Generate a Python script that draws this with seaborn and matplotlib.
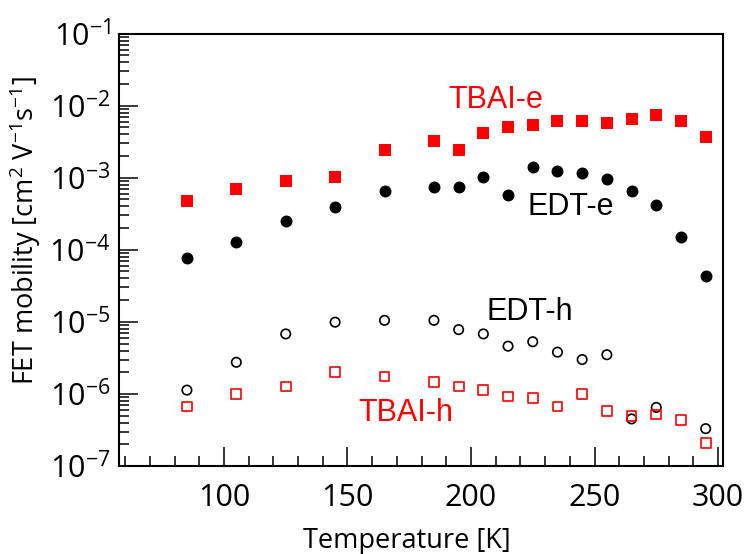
import numpy as np
import pandas as pd
import matplotlib
matplotlib.use("Agg")
import matplotlib.pyplot as plt
from matplotlib.ticker import MultipleLocator, LogLocator, NullFormatter
import seaborn as sns

# ---- data ----
temperature = [85, 105, 125, 145, 165, 185, 195, 205, 215, 225, 235, 245, 255, 265, 275, 285, 295]
tbai_e = [4.7e-4, 6.9e-4, 9.1e-4, 1.02e-3, 2.4e-3, 3.2e-3, 2.4e-3, 4.2e-3, 5.0e-3, 5.4e-3,
          6.2e-3, 6.2e-3, 5.8e-3, 6.6e-3, 7.5e-3, 6.2e-3, 3.7e-3]
edt_e = [7.8e-5, 1.29e-4, 2.5e-4, 3.9e-4, 6.5e-4, 7.4e-4, 7.4e-4, 1.02e-3, 5.7e-4, 1.41e-3,
         1.24e-3, 1.16e-3, 9.7e-4, 6.5e-4, 4.2e-4, 1.49e-4, 4.3e-5]
edt_h = [1.13e-6, 2.75e-6, 6.8e-6, 9.9e-6, 1.05e-5, 1.05e-5, 7.8e-6, 6.8e-6, 4.6e-6, 5.3e-6,
         3.8e-6, 3.0e-6, 3.5e-6, 4.5e-7, 6.5e-7, np.nan, 3.3e-7]
tbai_h = [6.7e-7, 1.0e-6, 1.27e-6, 2.0e-6, 1.75e-6, 1.45e-6, 1.27e-6, 1.13e-6, 9.2e-7, 8.8e-7,
          6.7e-7, 1.0e-6, 5.8e-7, 4.9e-7, 5.2e-7, 4.3e-7, 2.1e-7]
series_labels = ["TBAI-e", "EDT-e", "EDT-h", "TBAI-h"]

df = pd.DataFrame({"T": temperature, "TBAI-e": tbai_e, "EDT-e": edt_e,
                   "EDT-h": edt_h, "TBAI-h": tbai_h})

# ---- style ----
sns.set_style("white")
plt.rcParams["font.family"] = ["Open Sans", "DejaVu Sans"]
plt.rcParams["mathtext.fontset"] = "custom"
plt.rcParams["mathtext.rm"] = "Open Sans"
plt.rcParams["mathtext.it"] = "Open Sans:italic"
plt.rcParams["mathtext.bf"] = "Open Sans:bold"
for key in ["text.color", "axes.labelcolor", "xtick.color", "ytick.color",
            "xtick.labelcolor", "ytick.labelcolor", "axes.edgecolor"]:
    plt.rcParams[key] = "black"

fig = plt.figure(figsize=(7.52, 5.54), dpi=100)
ax = fig.add_axes([0.1582, 0.1588, 0.8032, 0.7807])

red = "#ff0000"
sns.scatterplot(data=df, x="T", y="TBAI-e", ax=ax, marker="s", s=74,
                color=red, linewidth=0)
sns.scatterplot(data=df, x="T", y="EDT-e", ax=ax, marker="o", s=74,
                color="black", linewidth=0)
sns.scatterplot(data=df, x="T", y="EDT-h", ax=ax, marker="o", s=46,
                color="black", facecolor="none", edgecolor="black", linewidth=1.2)
sns.scatterplot(data=df, x="T", y="TBAI-h", ax=ax, marker="s", s=50,
                color=red, facecolor="none", edgecolor=red, linewidth=1.2)

ax.set_yscale("log")
ax.set_ylim(1e-7, 1e-1)
ax.set_xlim(57.5, 302)

ax.xaxis.set_major_locator(MultipleLocator(50))
ax.xaxis.set_minor_locator(MultipleLocator(10))
ax.yaxis.set_major_locator(LogLocator(base=10, numticks=20))
ax.yaxis.set_minor_locator(LogLocator(base=10, subs=np.arange(2, 10), numticks=100))
ax.yaxis.set_minor_formatter(NullFormatter())

ax.tick_params(which="both", direction="in", top=False, right=False,
               left=True, bottom=True, width=1.1, color="black", labelcolor="black")
ax.tick_params(which="major", length=13.5, labelsize=22)
ax.tick_params(which="minor", length=7.2)
ax.tick_params(axis="x", which="major", pad=12)
ax.tick_params(axis="y", which="major", pad=6)

for sp in ax.spines.values():
    sp.set_linewidth(1.5)
    sp.set_color("black")
    sp.set_visible(True)

ax.set_xlabel("Temperature [K]", fontsize=19.5, color="black")
ax.set_ylabel("FET mobility [cm$^2$ V$^{-1}$s$^{-1}$]", fontsize=19.5, color="black")
ax.xaxis.set_label_coords(0.476, -0.14)
ax.yaxis.set_label_coords(-0.126, 0.545)

# ---- series annotations ----
lab_font = ["Liberation Sans", "DejaVu Sans"]
ax.text(210, 9.4e-3, series_labels[0], color=red, fontsize=22, family=lab_font,
        ha="center", va="baseline")
ax.text(240.5, 3.05e-4, series_labels[1], color="black", fontsize=22, family=lab_font,
        ha="center", va="baseline")
ax.text(224, 1.05e-5, series_labels[2], color="black", fontsize=22, family=lab_font,
        ha="center", va="baseline")
ax.text(173.5, 4.25e-7, series_labels[3], color=red, fontsize=22, family=lab_font,
        ha="center", va="baseline")

fig.savefig("out.png", dpi=100)
